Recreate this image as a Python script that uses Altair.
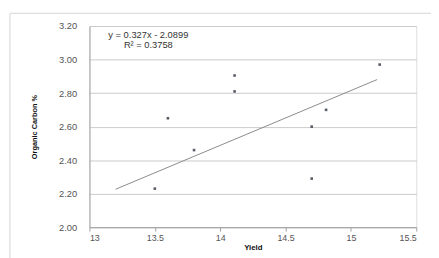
import altair as alt
import pandas as pd

yield_vals = [13.50, 13.60, 13.80, 14.11, 14.11, 14.70, 14.70, 14.81, 15.22]
carbon_vals = [2.23, 2.65, 2.46, 2.905, 2.81, 2.29, 2.60, 2.70, 2.97]
x_ticks = [13, 13.5, 14, 14.5, 15, 15.5]
y_ticks = [2.0, 2.2, 2.4, 2.6, 2.8, 3.0, 3.2]
slope, intercept = 0.327, -2.0899
trend_x = [13.2, 15.2]
eq_line1 = "y = 0.327x - 2.0899"
eq_line2 = "R² = 0.3758"

df = pd.DataFrame({"Yield": yield_vals, "Carbon": carbon_vals})
trend = pd.DataFrame({"Yield": trend_x, "Carbon": [slope * v + intercept for v in trend_x]})

W, H = 333, 205

xs = alt.Scale(domain=[13, 15.5], nice=False)
ys = alt.Scale(domain=[2.0, 3.2], nice=False)

xaxis = alt.Axis(values=x_ticks, labelExpr="format(datum.value, '')", grid=False,
                 domainColor="#a0a0a0", tickColor="#a0a0a0", tickSize=4,
                 labelFontSize=9, labelColor="#555", labelFont="Liberation Sans",
                 labelPadding=3, title="Yield", titleFontSize=8, titleFont="Liberation Sans",
                 titleFontWeight="bold", titleColor="#111", titlePadding=1)
yaxis = alt.Axis(values=y_ticks, format=".2f", grid=True, gridColor="#cacaca",
                 domainColor="#a0a0a0", ticks=False,
                 labelFontSize=9.5, labelColor="#555", labelFont="Liberation Sans",
                 labelPadding=13, title="Organic Carbon %", titleFontSize=7.5,
                 titleFont="Liberation Sans", titleFontWeight="bold", titleColor="#111",
                 titlePadding=20)

base = alt.Chart(df).encode(
    x=alt.X("Yield:Q", scale=xs, axis=xaxis),
    y=alt.Y("Carbon:Q", scale=ys, axis=yaxis),
)

pts = base.mark_square(size=7, color="#3a3f4a", opacity=0.85)
line = base.mark_line(color="#8a8a8a", strokeWidth=1).properties(data=trend)

one = pd.DataFrame({"a": [0]})
eq1 = alt.Chart(one).mark_text(fontSize=9.5, color="#333", font="Liberation Sans",
                              align="center", baseline="middle", text=eq_line1).encode(
    x=alt.value(60), y=alt.value(9))
eq2 = alt.Chart(one).mark_text(fontSize=9.5, color="#333", font="Liberation Sans",
                              align="center", baseline="middle", text=eq_line2).encode(
    x=alt.value(60), y=alt.value(19))

frame = alt.Chart(one).mark_rect(fill=None, stroke="#d4d4d4", strokeWidth=1).encode(
    x=alt.value(-81), x2=alt.value(420), y=alt.value(-13), y2=alt.value(240))

chart = alt.layer(frame, line, pts, eq1, eq2).properties(
    width=W, height=H,
    autosize=alt.AutoSizeParams(type="none"),
    padding={"left": 83, "top": 16, "right": 15, "bottom": 29},
).configure_view(stroke=None).configure(background="white")

chart.save("out.html", embed_options={"renderer": "svg", "actions": False})
